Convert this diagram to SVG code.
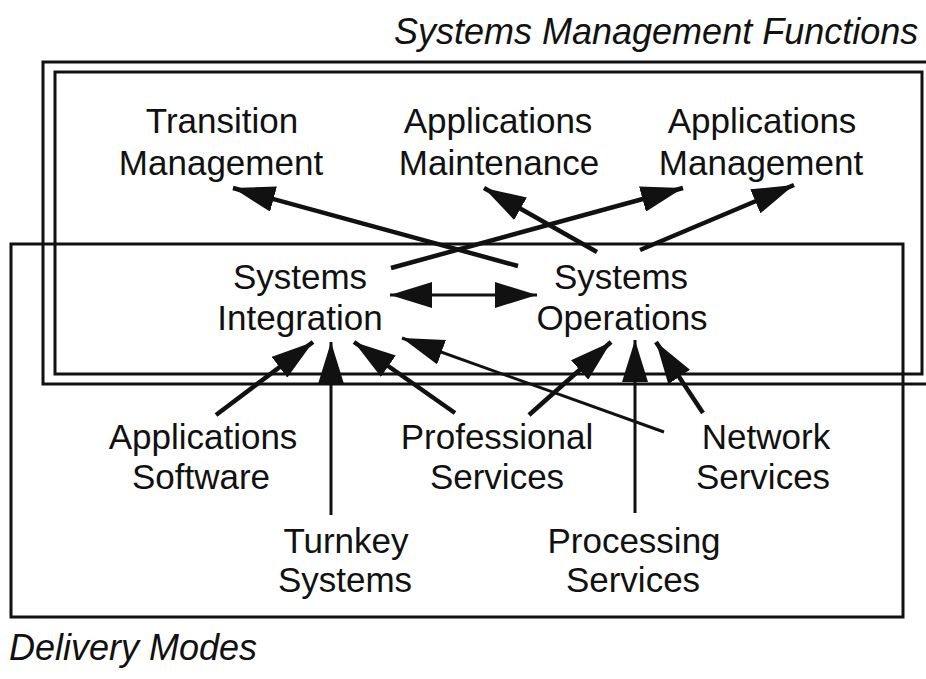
<svg xmlns="http://www.w3.org/2000/svg" width="926" height="679" viewBox="0 0 926 679">
<defs>
<style>
text{font-family:"Liberation Sans",Arial,sans-serif;font-size:35px;fill:#111;text-anchor:middle}
.it{font-style:italic;text-anchor:start;font-size:36px}
.box{fill:none;stroke:#111;stroke-width:3}
.c{stroke:#111;stroke-width:4.5;fill:none;marker-end:url(#ah)}
.t{stroke-width:3}
</style>
<marker id="ah" markerUnits="userSpaceOnUse" viewBox="0 0 42 26" refX="42" refY="13" markerWidth="42" markerHeight="26" orient="auto-start-reverse">
<path d="M0,0 L42,13 L0,26 Z" fill="#111"/>
</marker>
</defs>
<rect width="926" height="679" fill="#fff"/>
<g id="systems-management-functions">
<path class="box" d="M930,62 H43 V384 H930"/>
<rect class="box" x="55" y="72" width="867" height="302"/>
<text class="it" x="394" y="44">Systems Management Functions</text>
</g>
<g id="delivery-modes">
<rect class="box" x="11" y="244" width="892" height="373"/>
<text class="it" x="9" y="660">Delivery Modes</text>
</g>
<g id="connectors">
<line class="c" x1="518" y1="266" x2="233" y2="188"/>
<line class="c" x1="391" y1="268" x2="683" y2="188"/>
<line class="c" x1="597" y1="252" x2="484" y2="188"/>
<line class="c" x1="640" y1="250" x2="794" y2="185"/>
<line class="c t" x1="390" y1="295" x2="537" y2="295" marker-start="url(#ah)"/>
<line class="c" x1="216" y1="415" x2="313" y2="342"/>
<line class="c t" x1="331" y1="515" x2="331" y2="342"/>
<line class="c" x1="455" y1="413" x2="354" y2="342"/>
<line class="c t" x1="664" y1="432" x2="402" y2="338"/>
<line class="c" x1="529" y1="415" x2="611" y2="342"/>
<line class="c t" x1="635" y1="513" x2="635" y2="340"/>
<line class="c" x1="703" y1="413" x2="656" y2="342"/>
</g>
<g id="transition-management"><text x="222" y="133">Transition</text><text x="221" y="175">Management</text></g>
<g id="applications-maintenance"><text x="498" y="133">Applications</text><text x="499" y="175">Maintenance</text></g>
<g id="applications-management"><text x="762" y="133">Applications</text><text x="761" y="175">Management</text></g>
<g id="systems-integration"><text x="300" y="289">Systems</text><text x="300" y="330">Integration</text></g>
<g id="systems-operations"><text x="621" y="289">Systems</text><text x="622" y="330">Operations</text></g>
<g id="applications-software"><text x="203" y="449">Applications</text><text x="201" y="489">Software</text></g>
<g id="professional-services"><text x="497" y="449">Professional</text><text x="497" y="489">Services</text></g>
<g id="network-services"><text x="766" y="449">Network</text><text x="763" y="489">Services</text></g>
<g id="turnkey-systems"><text x="346" y="553">Turnkey</text><text x="345" y="592">Systems</text></g>
<g id="processing-services"><text x="634" y="553">Processing</text><text x="633" y="592">Services</text></g>
</svg>
